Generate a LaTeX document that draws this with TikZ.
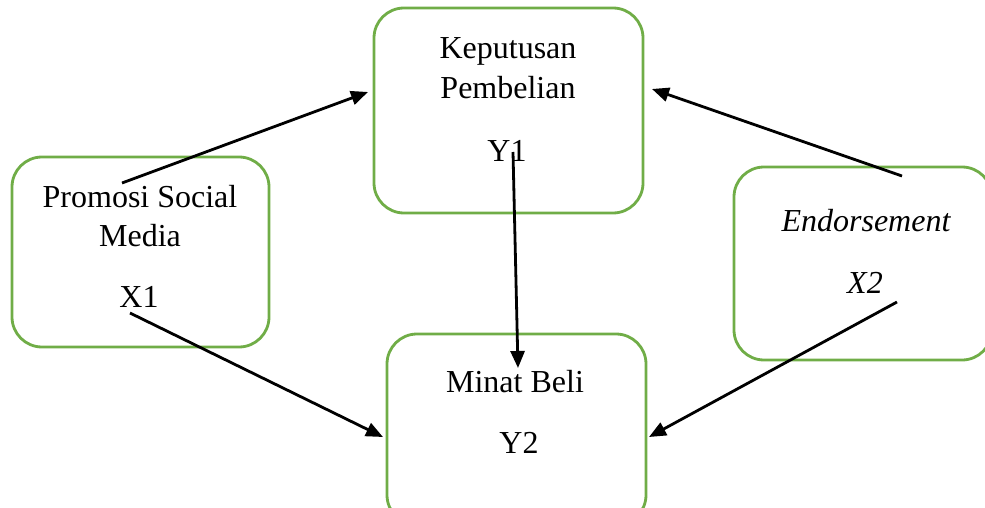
\documentclass[tikz,border=0pt]{standalone}
\usepackage{fontspec}
\setmainfont{Liberation Serif}
\usetikzlibrary{arrows.meta}
\definecolor{boxgreen}{RGB}{112,173,71}
\begin{document}
\begin{tikzpicture}[x=1pt,y=-1pt,
  varbox/.style={draw=boxgreen, line width=2.8pt, rounded corners=30pt, rectangle,
                 inner sep=0pt, outer sep=0pt},
  lbl/.style={anchor=base, inner sep=0pt, font=\fontsize{32}{38}\selectfont},
  link/.style={line width=2.8pt, -{Triangle[length=17pt,width=14pt]}}]
\useasboundingbox (0,0) rectangle (985,508);
\clip (0,0) rectangle (985,508);

% variable boxes
\node[varbox, minimum width=257pt, minimum height=190pt] (x1) at (140.5,252) {};
\node[varbox, minimum width=269pt, minimum height=205pt] (y1) at (508.5,110.5) {};
\node[varbox, minimum width=258pt, minimum height=193pt] (x2) at (863,263.5) {};
\node[varbox, minimum width=259pt, minimum height=191pt] (y2) at (516.5,429.5) {};

% box texts
\node[lbl] (x1a) at (140,207) {Promosi Social};
\node[lbl] (x1b) at (140,246) {Media};
\node[lbl] (x1c) at (139,307) {X1};
\node[lbl] (y1a) at (508,59) {Keputusan};
\node[lbl] (y1b) at (508,99) {Pembelian};
\node[lbl] (y1c) at (507,161) {Y1};
\node[lbl] (x2a) at (866,231) {\itshape Endorsement};
\node[lbl] (x2c) at (865,293) {\itshape X2};
\node[lbl] (y2a) at (515,392) {Minat Beli};
\node[lbl] (y2c) at (519,453) {Y2};

% connector end points
\coordinate (x1top) at (122,183);  \coordinate (y1left) at (368,92);
\coordinate (x2top) at (902,176);  \coordinate (y1right) at (652,89);
\coordinate (y1low) at (513,152);  \coordinate (y2top) at (518,368);
\coordinate (x1low) at (130,313);  \coordinate (y2left) at (383,437);
\coordinate (x2low) at (897,302);  \coordinate (y2right) at (649,437);

% paths
\draw[link] (x1top) -- (y1left);
\draw[link] (x2top) -- (y1right);
\draw[link] (y1low) -- (y2top);
\draw[link] (x1low) -- (y2left);
\draw[link] (x2low) -- (y2right);
\end{tikzpicture}
\end{document}
